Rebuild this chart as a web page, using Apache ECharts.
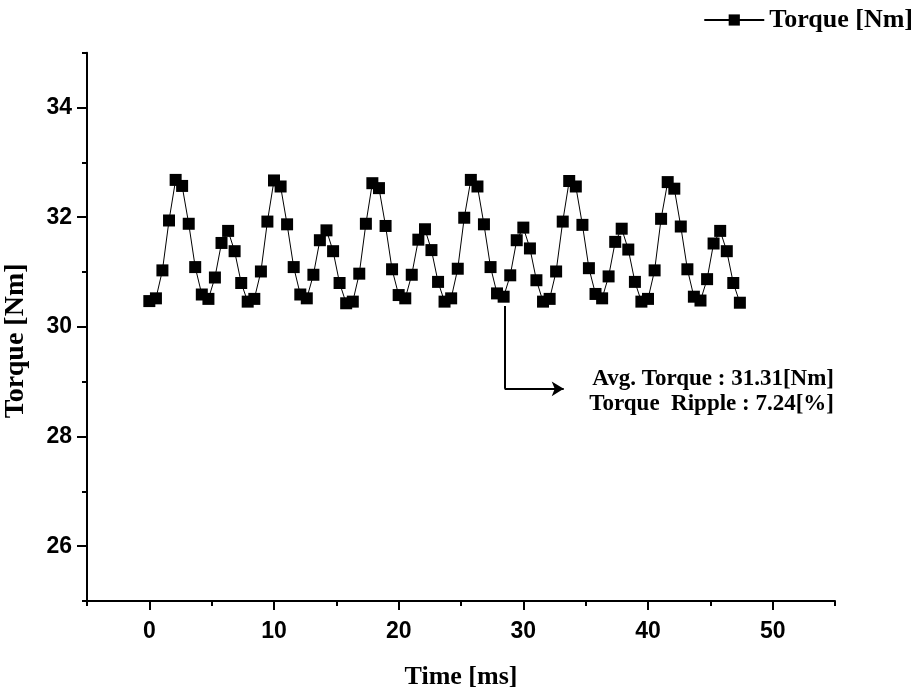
<!DOCTYPE html>
<html>
<head>
<meta charset="utf-8">
<script src="https://cdn.jsdelivr.net/npm/echarts@6/dist/echarts.min.js"></script>
<style>
html,body{margin:0;padding:0;background:#fff;}
#main{width:922px;height:695px;}
</style>
</head>
<body>
<div id="main"></div>
<script>
// Time [ms]
var times = [0.00,0.53,1.05,1.58,2.11,2.63,3.16,3.68,4.21,4.74,5.26,5.79,6.32,6.84,7.37,7.89,8.42,8.95,9.47,10.00,
10.53,11.05,11.58,12.11,12.63,13.16,13.68,14.21,14.74,15.26,15.79,16.32,16.84,17.37,17.89,18.42,18.95,19.47,20.00,
20.53,21.05,21.58,22.11,22.63,23.16,23.68,24.21,24.74,25.26,25.79,26.32,26.84,27.37,27.89,28.42,28.95,29.47,30.00,
30.53,31.05,31.58,32.11,32.63,33.16,33.68,34.21,34.74,35.26,35.79,36.32,36.84,37.37,37.89,38.42,38.95,39.47,40.00,
40.53,41.05,41.58,42.11,42.63,43.16,43.68,44.21,44.74,45.26,45.79,46.32,46.84,47.37];
// Torque [Nm]
var torque = [30.47,30.52,31.03,31.94,32.68,32.57,31.88,31.09,30.59,30.51,30.90,31.53,31.75,31.38,30.80,
30.46,30.51,31.01,31.92,32.67,32.56,31.87,31.09,30.59,30.52,30.95,31.58,31.76,31.38,30.80,
30.43,30.46,30.97,31.88,32.62,32.53,31.84,31.05,30.58,30.52,30.95,31.59,31.78,31.40,30.82,
30.46,30.52,31.06,31.99,32.68,32.56,31.87,31.09,30.61,30.55,30.94,31.58,31.81,31.43,30.85,
30.46,30.51,31.01,31.92,32.66,32.56,31.86,31.07,30.60,30.52,30.92,31.55,31.79,31.41,30.82,
30.46,30.51,31.03,31.97,32.64,32.52,31.83,31.05,30.55,30.48,30.87,31.52,31.75,31.38,30.80,30.44];
var xTickLabels = [0,10,20,30,40,50];
var yTickLabels = [26,28,30,32,34];
var seriesName = 'Torque [Nm]';
var annotationLines = ['Avg. Torque : 31.31[Nm]', 'Torque  Ripple : 7.24[%]'];
// annotation arrow path in data coords
var arrowPath = [[28.5, 30.38], [28.5, 28.87], [33.24, 28.87]];

var serif = '"Liberation Serif","Times New Roman",serif';
var sans = '"Liberation Sans",Arial,sans-serif';

var data = times.map(function(t, i){ return [t, torque[i]]; });

var chart = echarts.init(document.getElementById('main'), null, {renderer:'canvas'});
function axisLine(){ return {show:true, onZero:false, lineStyle:{color:'#000', width:2}}; }
chart.setOption({
  animation:false,
  backgroundColor:'#fff',
  grid:{left:87, right:87, top:52.7, bottom:94, containLabel:false, outerBoundsMode:'none'},
  legend:{
    right:4, top:2,
    itemWidth:60, itemHeight:14, itemGap:8,
    textStyle:{fontFamily:serif, fontWeight:'bold', fontSize:26, color:'#000'},
    data:[seriesName]
  },
  xAxis:[{
    type:'value', min:-5, max:55,
    name:'Time [ms]', nameLocation:'middle', nameGap:63,
    nameTextStyle:{fontFamily:serif, fontWeight:'bold', fontSize:26, color:'#000'},
    axisLine:axisLine(),
    axisTick:{show:true, inside:false, length:9, lineStyle:{color:'#000', width:2}, customValues:xTickLabels},
    axisLabel:{show:true, customValues:xTickLabels, margin:19, fontFamily:sans, fontWeight:'bold', fontSize:23, color:'#000'},
    splitLine:{show:false}
  },{
    type:'value', min:-5, max:55, interval:5, position:'bottom',
    axisLine:{show:false, onZero:false},
    axisTick:{show:true, length:5, lineStyle:{color:'#000', width:2}},
    axisLabel:{show:false}, splitLine:{show:false}
  }],
  yAxis:[{
    type:'value', min:25, max:35,
    name:'Torque [Nm]', nameLocation:'middle', nameGap:57, nameRotate:90,
    nameTextStyle:{fontFamily:serif, fontWeight:'bold', fontSize:28, color:'#000', padding:[0,28,0,0]},
    axisLine:axisLine(),
    axisTick:{show:true, inside:false, length:10, lineStyle:{color:'#000', width:2}, customValues:yTickLabels},
    axisLabel:{show:true, customValues:yTickLabels, margin:15, fontFamily:sans, fontWeight:'bold', fontSize:23, color:'#000'},
    splitLine:{show:false}
  },{
    type:'value', min:25, max:35, interval:1, position:'left',
    axisLine:{show:false, onZero:false},
    axisTick:{show:true, length:5, lineStyle:{color:'#000', width:2}},
    axisLabel:{show:false}, splitLine:{show:false}
  }],
  series:[{
    name:seriesName,
    type:'line',
    xAxisIndex:0, yAxisIndex:0,
    data:data,
    symbol:'rect', symbolSize:12,
    itemStyle:{color:'#000'},
    lineStyle:{color:'#000', width:1},
    markLine:{
      silent:true,
      symbol:['none','none'],
      label:{show:false},
      lineStyle:{color:'#000', width:2, type:'solid'},
      data:[
        [{coord:arrowPath[0], symbol:'none'},{coord:arrowPath[1], symbol:'none'}],
        [{coord:arrowPath[1], symbol:'none'},{coord:arrowPath[2], symbol:'arrow', symbolSize:[11,12]}]
      ]
    }
  }],
  graphic:[
    {type:'text', right:88, top:368, style:{text:annotationLines[0], font:'bold 23px '+serif, fill:'#000', textAlign:'right'}},
    {type:'text', right:88, top:393, style:{text:annotationLines[1], font:'bold 23px '+serif, fill:'#000', textAlign:'right'}}
  ]
});
</script>
</body>
</html>
